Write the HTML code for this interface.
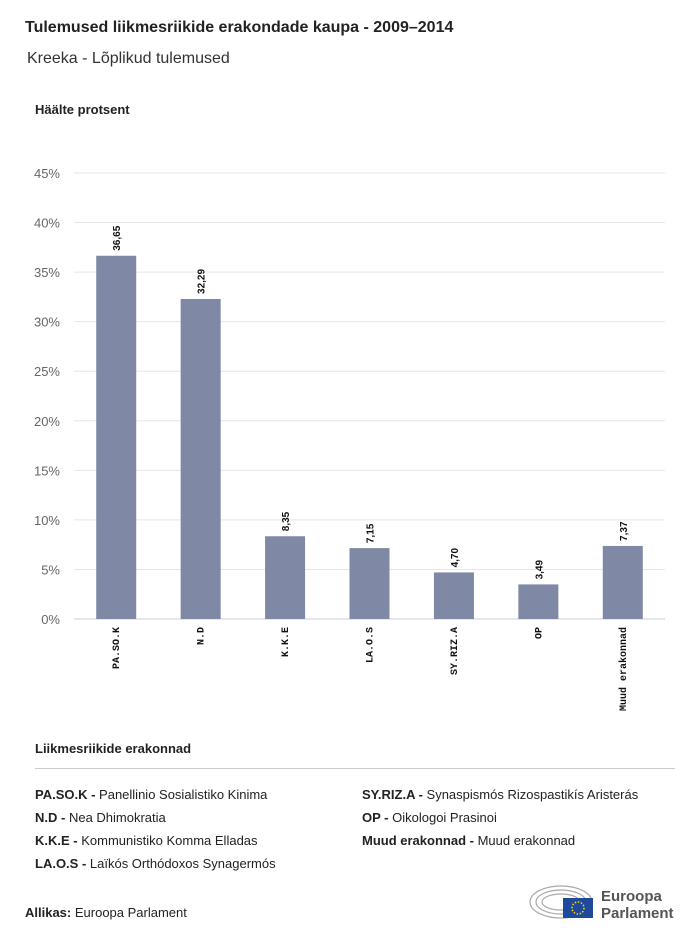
<!DOCTYPE html>
<html><head><meta charset="utf-8">
<style>
body{margin:0;background:#fff;width:700px;height:939px;overflow:hidden;font-family:"Liberation Sans",sans-serif;color:#222}
.t{position:absolute;white-space:nowrap}
</style></head><body>
<div class="t" style="left:25px;top:19px;font-size:16px;font-weight:bold;color:#222">Tulemused liikmesriikide erakondade kaupa - 2009–2014</div>
<div class="t" style="left:27px;top:50px;font-size:16px;color:#333">Kreeka - Lõplikud tulemused</div>
<div class="t" style="left:35px;top:102px;font-size:13px;font-weight:bold">Häälte protsent</div>
<svg id="chart" width="700" height="939" style="position:absolute;left:0;top:0"></svg>
<div class="t" style="left:35px;top:741px;font-size:13px;font-weight:bold">Liikmesriikide erakonnad</div>
<div style="position:absolute;left:35px;top:768px;width:640px;height:1px;background:#ccc"></div>
<div style="font-size:13px">
<div class="t" style="left:35px;top:787px"><b>PA.SO.K -</b> Panellinio Sosialistiko Kinima</div>
<div class="t" style="left:35px;top:810px"><b>N.D -</b> Nea Dhimokratia</div>
<div class="t" style="left:35px;top:833px"><b>K.K.E -</b> Kommunistiko Komma Elladas</div>
<div class="t" style="left:35px;top:856px"><b>LA.O.S -</b> Laïkós Orthódoxos Synagermós</div>
<div class="t" style="left:362px;top:787px"><b>SY.RIZ.A -</b> Synaspismós Rizospastikís Aristerás</div>
<div class="t" style="left:362px;top:810px"><b>OP -</b> Oikologoi Prasinoi</div>
<div class="t" style="left:362px;top:833px"><b>Muud erakonnad -</b> Muud erakonnad</div>
</div>
<div class="t" style="left:25px;top:905px;font-size:13px"><b>Allikas:</b> Euroopa Parlament</div>
<svg width="150" height="45" style="position:absolute;left:528px;top:880px">
<g fill="none" stroke="#aaa" stroke-width="1.2">
<ellipse cx="33" cy="22" rx="31" ry="16"/><ellipse cx="33" cy="22" rx="25" ry="12"/><ellipse cx="33" cy="22" rx="19" ry="8"/></g>
<rect x="35" y="18" width="30" height="20" fill="#1f4a9c"/>
<circle cx="50" cy="28" r="6" fill="none" stroke="#ffd200" stroke-width="1.5" stroke-dasharray="1.5 1.6"/>
<text x="73" y="21" font-size="15" font-weight="bold" fill="#555" font-family="Liberation Sans">Euroopa</text>
<text x="73" y="38" font-size="15" font-weight="bold" fill="#555" font-family="Liberation Sans">Parlament</text>
</svg>
<script>
const categories=["PA.SO.K","N.D","K.K.E","LA.O.S","SY.RIZ.A","OP","Muud  erakonnad"];
const values=[36.65,32.29,8.35,7.15,4.70,3.49,7.37];
const valueLabels=["36,65","32,29","8,35","7,15","4,70","3,49","7,37"];
const yTicks=[0,5,10,15,20,25,30,35,40,45];
const svg=document.getElementById('chart');
const NS='http://www.w3.org/2000/svg';
const x0=74,x1=665,y0=619,y45=173;
const y=v=>y0-(v/45)*(y0-y45);
const band=(x1-x0)/categories.length;
const xc=i=>x0+band*(i+0.5);
function mk(t,a){const e=document.createElementNS(NS,t);for(const k in a)e.setAttribute(k,a[k]);svg.appendChild(e);return e;}
yTicks.forEach(t=>{
 const l=mk('line',{x1:x0,x2:x1,y1:y(t),y2:y(t),stroke:t===0?'#ccd':'#e6e6e6','stroke-width':1});
 
 
 const tx=mk('text',{x:60,y:y(t)+5,'text-anchor':'end','font-size':13,fill:'#666','font-family':'Liberation Sans'});
 tx.textContent=t+'%';
 
 
});
categories.forEach((c,i)=>{
 const bw=40,cx=xc(i);
 const r=mk('rect',{x:cx-bw/2,y:y(values[i]),width:bw,height:y0-y(values[i]),fill:'#7f88a4'});
 
 
 const vt=mk('text',{transform:`translate(${cx+4},${y(values[i])-5}) rotate(-90)`,'font-size':10,'font-weight':'bold',fill:'#111','font-family':'Liberation Sans'});
 vt.textContent=valueLabels[i];
 
 
 const ct=mk('text',{transform:`translate(${cx+3},${y0+8}) rotate(-90)`,'text-anchor':'end','font-size':10,'font-weight':'bold',fill:'#111','font-family':'Liberation Mono','xml:space':'preserve'});
 ct.textContent=c;
 
 
});
</script>
</body></html>
